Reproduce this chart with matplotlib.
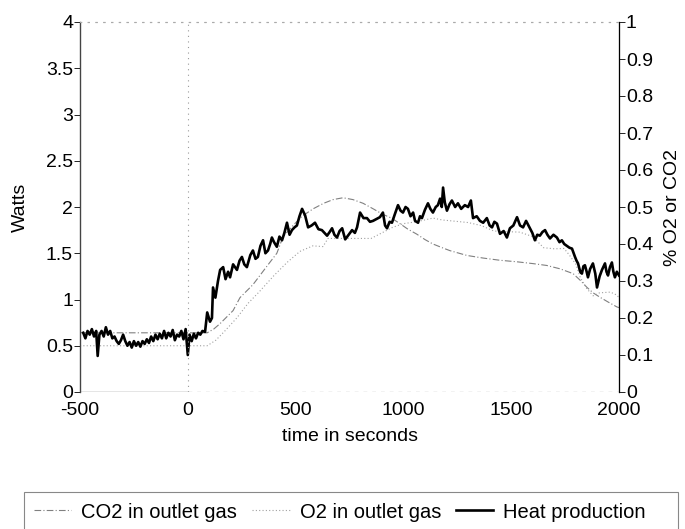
import matplotlib
matplotlib.use('Agg')
import matplotlib.pyplot as plt
from matplotlib.patches import Rectangle
from matplotlib.ticker import FormatStrFormatter

plt.rcParams['font.family'] = ['Liberation Sans', 'DejaVu Sans']
plt.rcParams['axes.unicode_minus'] = False

# heat production, Watts (left axis)
heat_t = [-485, -475, -465, -455, -445, -435, -425, -418, -410, -400, -390, -380, -370, -360,
          -350, -340, -330, -320, -310, -300, -290, -280, -270, -260, -250, -240, -230, -220,
          -210, -200, -190, -180, -170, -160, -150, -140, -130, -120, -110, -100, -90, -80,
          -70, -60, -50, -40, -30, -20, -10, 0, 8, 18, 28, 38, 48, 58, 68, 80, 90, 103, 112,
          117, 128, 140, 150, 164, 175, 187, 196, 210, 228, 240, 251, 262, 274, 290, 302, 314,
          325, 337, 349, 360, 372, 382, 390, 400, 413, 425, 437, 448, 460, 472, 483, 495, 506,
          518, 530, 544, 558, 574, 590, 606, 622, 634, 646, 658, 669, 680, 692, 704, 716, 730,
          746, 762, 775, 785, 799, 815, 831, 845, 859, 875, 891, 905, 915, 924, 936, 947, 960,
          975, 987, 998, 1010, 1021, 1033, 1045, 1054, 1068, 1077, 1086, 1100, 1114, 1125, 1137,
          1150, 1160, 1170, 1178, 1184, 1192, 1202, 1214, 1225, 1240, 1253, 1268, 1285, 1300,
          1313, 1323, 1340, 1355, 1370, 1387, 1400, 1411, 1422, 1434, 1448, 1465, 1480, 1494,
          1510, 1527, 1541, 1555, 1569, 1580, 1587, 1598, 1610, 1621, 1633, 1645, 1657, 1668,
          1680, 1696, 1712, 1724, 1735, 1746, 1758, 1770, 1782, 1796, 1803, 1810, 1820, 1828,
          1835, 1842, 1850, 1856, 1866, 1879, 1890, 1898, 1910, 1921, 1935, 1942, 1949, 1958,
          1967, 1974, 1981, 1990, 2000]
heat_w = [0.64, 0.58, 0.66, 0.62, 0.68, 0.6, 0.66, 0.39, 0.62, 0.66, 0.6, 0.7, 0.62, 0.66,
          0.58, 0.6, 0.55, 0.52, 0.56, 0.62, 0.55, 0.5, 0.54, 0.48, 0.55, 0.5, 0.54, 0.49,
          0.55, 0.52, 0.57, 0.53, 0.6, 0.55, 0.62, 0.57, 0.63, 0.58, 0.66, 0.58, 0.64, 0.6,
          0.67, 0.56, 0.62, 0.6, 0.66, 0.57, 0.68, 0.4, 0.62, 0.55, 0.63, 0.58, 0.64, 0.62,
          0.66, 0.65, 0.86, 0.76, 0.8, 1.13, 1.02, 1.2, 1.32, 1.35, 1.22, 1.3, 1.24, 1.38,
          1.32, 1.42, 1.46, 1.38, 1.35, 1.48, 1.53, 1.44, 1.46, 1.58, 1.64, 1.5, 1.53, 1.6,
          1.67, 1.62, 1.57, 1.68, 1.64, 1.72, 1.83, 1.7, 1.75, 1.78, 1.8, 1.9, 1.98, 1.91,
          1.78, 1.8, 1.83, 1.76, 1.75, 1.72, 1.69, 1.73, 1.77, 1.7, 1.67, 1.74, 1.77, 1.65,
          1.7, 1.75, 1.72, 1.78, 1.94, 1.88, 1.88, 1.84, 1.85, 1.87, 1.89, 1.94, 1.8, 1.77,
          1.84, 1.83, 1.92, 2.02, 1.96, 1.94, 2.0, 1.98, 1.9, 1.94, 1.85, 1.83, 1.9, 1.88,
          1.97, 2.04, 1.98, 1.94, 2.0, 2.02, 2.09, 2.0, 2.21, 2.05, 1.96, 2.03, 2.07, 2.0,
          2.04, 1.98, 2.02, 2.0, 2.07, 1.88, 1.9, 1.85, 1.83, 1.88, 1.8, 1.78, 1.84, 1.82,
          1.71, 1.74, 1.67, 1.77, 1.8, 1.89, 1.8, 1.78, 1.85, 1.8, 1.77, 1.72, 1.64, 1.7,
          1.69, 1.73, 1.75, 1.7, 1.66, 1.7, 1.67, 1.62, 1.64, 1.6, 1.58, 1.56, 1.55, 1.46,
          1.42, 1.39, 1.3, 1.28, 1.36, 1.37, 1.3, 1.24, 1.33, 1.39, 1.28, 1.13, 1.25, 1.32,
          1.39, 1.3, 1.26, 1.35, 1.4, 1.3, 1.24, 1.3, 1.26]

# CO2 in outlet gas, % (right axis)
co2_t = [-500, 90, 120, 150, 210, 242, 302, 367, 413, 442, 488, 530, 581, 630, 674, 720, 766,
         813, 860, 905, 945, 984, 1021, 1061, 1100, 1137, 1180, 1216, 1295, 1370, 1448, 1525,
         1601, 1665, 1726, 1787, 1820, 1851, 1880, 1912, 1950, 1990, 2000]
co2_pct = [0.16, 0.16, 0.17, 0.185, 0.22, 0.255, 0.29, 0.34, 0.375, 0.42, 0.45, 0.475, 0.495,
           0.51, 0.52, 0.525, 0.52, 0.51, 0.495, 0.48, 0.47, 0.455, 0.44, 0.427, 0.412, 0.4,
           0.39, 0.382, 0.369, 0.362, 0.356, 0.352, 0.347, 0.342, 0.333, 0.32, 0.302, 0.283,
           0.268, 0.256, 0.243, 0.23, 0.228]

# O2 in outlet gas, % (right axis)
o2_t = [-500, 90, 130, 172, 227, 280, 330, 400, 460, 520, 580, 627, 650, 750, 850, 900, 950,
        1000, 1060, 1137, 1180, 1300, 1360, 1420, 1540, 1600, 1650, 1700, 1745, 1770, 1800,
        1820, 1850, 1880, 1910, 1960, 1990, 2000]
o2_pct = [0.125, 0.125, 0.14, 0.165, 0.2, 0.24, 0.27, 0.315, 0.35, 0.38, 0.395, 0.393, 0.415,
          0.415, 0.415, 0.43, 0.445, 0.455, 0.46, 0.47, 0.465, 0.458, 0.45, 0.435, 0.432, 0.42,
          0.39, 0.387, 0.388, 0.37, 0.345, 0.31, 0.28, 0.26, 0.268, 0.27, 0.262, 0.255]

xticks = [-500, 0, 500, 1000, 1500, 2000]
watt_ticks = [0, 0.5, 1, 1.5, 2, 2.5, 3, 3.5, 4]
pct_ticks = [0, 0.1, 0.2, 0.3, 0.4, 0.5, 0.6, 0.7, 0.8, 0.9, 1]

fig = plt.figure(figsize=(6.85, 5.29), dpi=100)
ax = fig.add_axes([80 / 685, 1 - 392 / 529, 539 / 685, 370 / 529])
ax2 = ax.twinx()

ax.set_xlim(xticks[0], xticks[-1])
ax.set_ylim(watt_ticks[0], watt_ticks[-1])
ax2.set_ylim(pct_ticks[0], pct_ticks[-1])

l1, = ax2.plot(co2_t, co2_pct, color='#808080', lw=0.8, linestyle=(0, (6, 2, 1, 2)))
l2, = ax2.plot(o2_t, o2_pct, color='#a0a0a0', lw=0.8, linestyle=(0, (1, 2)))
l3, = ax.plot(heat_t, heat_w, color='black', lw=1.9)
ax.set_zorder(ax2.get_zorder() + 1)
ax.patch.set_visible(False)

# dotted marker at t = 0
ax.axvline(0, color='#999999', lw=0.8, linestyle=(0, (1, 4)))

# spines
for a in (ax, ax2):
    a.spines['top'].set_linestyle((0, (1, 6)))
    a.spines['top'].set_color('#aaaaaa')
    a.spines['bottom'].set_visible(False)
ax.spines['left'].set_linewidth(0.9)
ax.spines['left'].set_color('#444444')
ax2.spines['right'].set_linewidth(0.9)
ax2.spines['right'].set_color('#444444')
ax.axhline(0, xmax=0.2, color='#333333', lw=0.9)
ax.axhline(0, xmin=0.2, color='#999999', lw=0.9, linestyle=(0, (3, 4)))

ax.set_xticks(xticks)
ax.set_yticks(watt_ticks)
ax2.set_yticks(pct_ticks)
ax.yaxis.set_major_formatter(FormatStrFormatter('%g'))
ax2.yaxis.set_major_formatter(FormatStrFormatter('%g'))
ax.tick_params(axis='x', length=0, labelsize=14, pad=7.5)
ax.tick_params(axis='y', length=4, width=0.6, labelsize=14, pad=1)
ax2.tick_params(axis='y', length=4, width=0.6, labelsize=14, pad=1)

ax.set_xlabel('time in seconds', fontsize=14, labelpad=6)
ax.set_ylabel('Watts', fontsize=14, labelpad=12)
ax2.set_ylabel('% O2 or CO2', fontsize=14, labelpad=8)

leg = fig.legend([l1, l2, l3], ['CO2 in outlet gas', 'O2 in outlet gas', 'Heat production'],
                 loc='center', bbox_to_anchor=(340 / 685, 1 - 512 / 529), ncol=3,
                 fontsize=14.5, frameon=False, handlelength=1.85, handletextpad=0.5,
                 columnspacing=0.75)

# legend box, running off the bottom edge as in the scan
fig.patches.append(Rectangle((24 / 685, -0.05), 654 / 685, 0.05 + 37 / 529,
                             transform=fig.transFigure, fill=False,
                             edgecolor='#888888', lw=0.8))

fig.savefig('out.png', dpi=100)
